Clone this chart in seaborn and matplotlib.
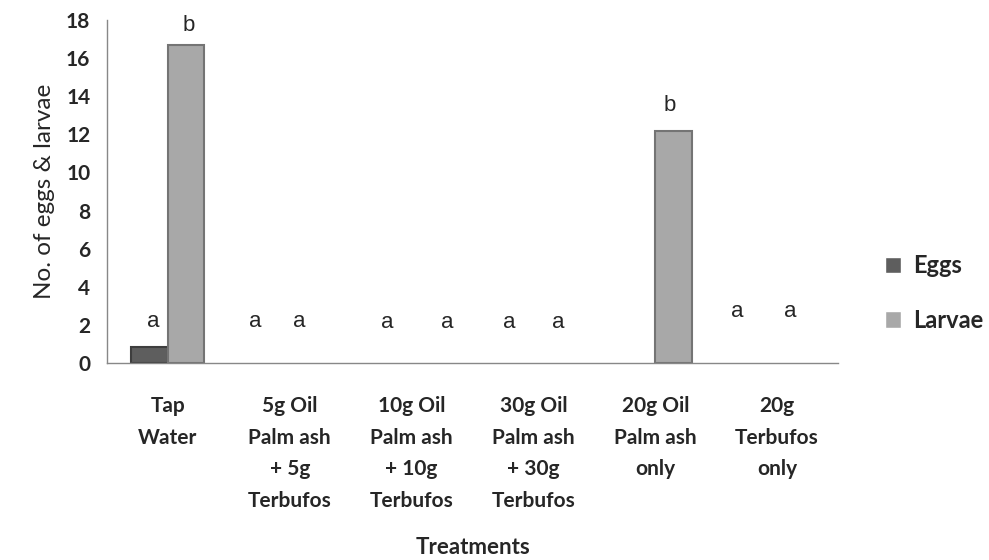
import matplotlib
matplotlib.use("Agg")
import matplotlib.pyplot as plt
from matplotlib.ticker import FixedLocator
import seaborn as sns
import pandas as pd

# ---- data ----
treatments = ["Tap\nWater",
              "5g Oil\nPalm ash\n+ 5g\nTerbufos",
              "10g Oil\nPalm ash\n+ 10g\nTerbufos",
              "30g Oil\nPalm ash\n+ 30g\nTerbufos",
              "20g Oil\nPalm ash\nonly",
              "20g\nTerbufos\nonly"]
eggs = [0.85, 0, 0, 0, 0, 0]
larvae = [16.7, 0, 0, 0, 12.2, 0]
eggs_letters = ["a", "a", "a", "a", "", "a"]
larvae_letters = ["b", "a", "a", "a", "b", "a"]
y_ticks = [0, 2, 4, 6, 8, 10, 12, 14, 16, 18]

df = pd.DataFrame({
    "Treatment": treatments * 2,
    "Value": eggs + larvae,
    "Stage": ["Eggs"] * len(treatments) + ["Larvae"] * len(treatments),
})

sns.set_style("white")
plt.rcParams["font.family"] = ["Lato", "DejaVu Sans"]

fig = plt.figure(figsize=(9.89, 5.6), dpi=100)
ax = fig.add_axes([107 / 989, 1 - 363 / 560, (838 - 107) / 989, (363 - 20) / 560])

palette = {"Eggs": "#5e5e5e", "Larvae": "#a8a8a8"}
sns.barplot(data=df, x="Treatment", y="Value", hue="Stage", order=treatments,
            hue_order=["Eggs", "Larvae"], palette=palette, width=0.6,
            saturation=1, ax=ax, legend=True)

edge = {"Eggs": "#3e3e3e", "Larvae": "#747474"}
for cont, stage in zip(ax.containers, ["Eggs", "Larvae"]):
    for p in cont.patches:
        p.set_edgecolor(edge[stage])
        p.set_linewidth(1.5 if p.get_height() > 0 else 0)

# significance letters (annotation layout)
egg_lx = [-0.12, -0.28, -0.20, -0.20, 0, -0.33]
lar_lx = [0.17, 0.08, 0.29, 0.20, 0.12, 0.11]
egg_ly = [2.2, 2.2, 2.1, 2.1, 0, 2.7]
lar_ly = [17.7, 2.2, 2.1, 2.1, 13.5, 2.7]
for i in range(len(treatments)):
    if eggs_letters[i]:
        ax.text(i + egg_lx[i], egg_ly[i], eggs_letters[i], ha="center", va="center",
                fontsize=16, family="Liberation Sans")
    if larvae_letters[i]:
        ax.text(i + lar_lx[i], lar_ly[i], larvae_letters[i], ha="center", va="center",
                fontsize=16, family="Liberation Sans")

ax.set_xlim(-0.5, len(treatments) - 0.5)
ax.set_ylim(0, 18)
ax.set_yticks(y_ticks)
ax.set_yticklabels([str(t) for t in y_ticks], fontsize=15, fontweight="bold")
ax.set_xticks(range(len(treatments)))
ax.set_xticklabels(treatments, fontsize=15, fontweight="bold", linespacing=1.72,
                   va="top")
ax.xaxis.set_minor_locator(FixedLocator([i - 0.5 for i in range(len(treatments) + 1)]))
ax.tick_params(axis="x", which="major", length=0, pad=24)
ax.tick_params(axis="x", which="minor", length=6, width=1, color="#888888", direction="out")
ax.tick_params(axis="y", which="major", length=6, width=1, color="#888888", direction="out",
               pad=6)
for s in ["top", "right"]:
    ax.spines[s].set_visible(False)
for s in ["left", "bottom"]:
    ax.spines[s].set_color("#888888")
    ax.spines[s].set_linewidth(1)

ax.set_ylabel("No. of eggs & larvae", fontsize=17.5, labelpad=8)
ax.set_xlabel("Treatments", fontsize=16, fontweight="bold", labelpad=19)

leg = ax.legend(loc="center left", bbox_to_anchor=(1.035, 0.204), frameon=False,
                fontsize=17, handlelength=0.7, handleheight=0.7, labelspacing=1.35,
                handletextpad=0.5)
for t in leg.get_texts():
    t.set_fontweight("bold")

fig.savefig("out.png", dpi=100)
